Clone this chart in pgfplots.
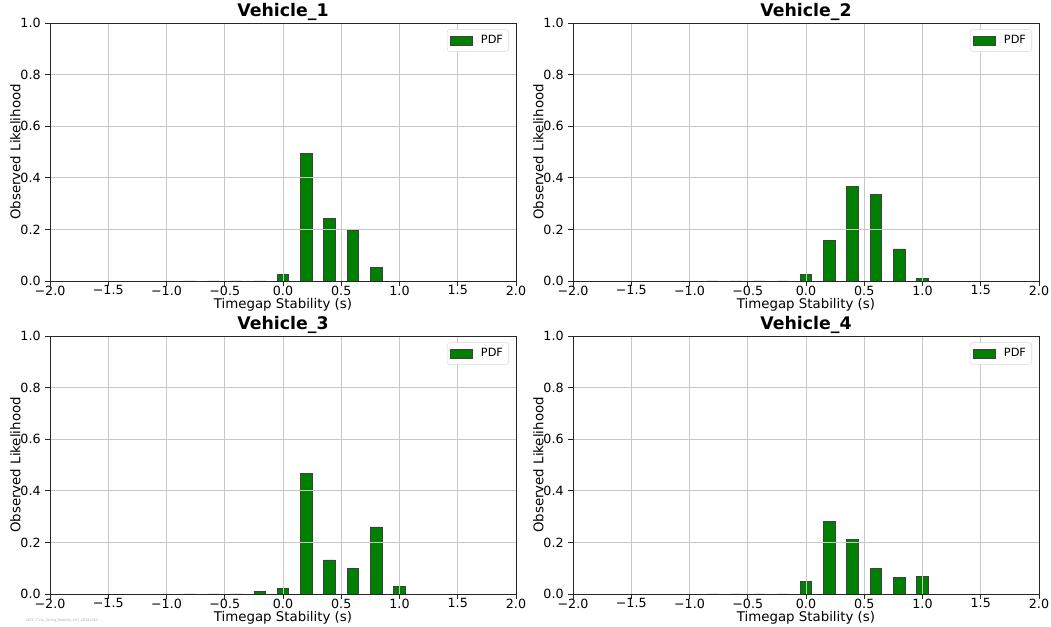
\documentclass[border=0pt]{standalone}
\usepackage{fontspec}
\setmainfont{DejaVu Sans}
\usepackage{pgfplots}
\pgfplotsset{compat=1.18}
\usepackage{pgfplotstable}
\definecolor{barg}{RGB}{0,128,0}
\definecolor{gridc}{RGB}{200,200,200}

\pgfplotstableread{
x y
-0.8 0
-0.6 0
-0.4 0
-0.2 0
0.0 0.026
0.2 0.495
0.4 0.241
0.6 0.197
0.8 0.053
}\vone
\pgfplotstableread{
x y
-0.8 0
-0.6 0
-0.4 0
-0.2 0
0.0 0.027
0.2 0.158
0.4 0.368
0.6 0.336
0.8 0.124
1.0 0.010
}\vtwo
\pgfplotstableread{
x y
-0.8 0
-0.6 0
-0.4 0
-0.2 0.010
0.0 0.022
0.2 0.466
0.4 0.132
0.6 0.098
0.8 0.260
1.0 0.028
}\vthree
\pgfplotstableread{
x y
-0.8 0
-0.6 0
-0.4 0
-0.2 0
0.0 0.049
0.2 0.281
0.4 0.210
0.6 0.100
0.8 0.063
1.0 0.069
}\vfour

\pgfplotsset{
  panel/.style={
    scale only axis,
    width=349.5pt, height=193.5pt,
    anchor=south west,
    xmin=-2, xmax=2, ymin=0, ymax=1,
    xtick={-2,-1.5,...,2},
    xticklabels={−2.0,−1.5,−1.0,−0.5,0.0,0.5,1.0,1.5,2.0},
    ytick={0,0.2,...,1.0},
    yticklabels={0.0,0.2,0.4,0.6,0.8,1.0},
    tick label style={font=\fontsize{9.5}{11}\selectfont},
    xticklabel style={yshift=3.5pt},
    label style={font=\fontsize{10}{12}\selectfont},
    title style={font=\fontsize{13}{15}\selectfont\bfseries, yshift=-7.5pt},
    xlabel={Timegap Stability (s)},
    ylabel={Observed Likelihood},
    xlabel style={yshift=4.75pt},
    ylabel style={yshift=-7pt},
    grid=major,
    major grid style={gridc, line width=0.6pt},
    axis line style={black!85, line width=0.6pt},
    tick style={black!85, line width=0.6pt},
    tick align=outside,
    tick pos=left,
    major tick length=3.5pt,
    axis on top,
    legend style={font=\fontsize{8.5}{10}\selectfont, draw=gray!30, rounded corners=2pt, inner sep=2.3pt, at={(0.985,0.975)}, anchor=north east},
    legend cell align=left,
  },
  barstyle/.style={ybar, bar width=0.1, fill=barg, draw=black!75, line width=0.5pt,
    legend image code/.code={\draw[##1, sharp corners] (0pt,-3.3pt) rectangle (16.5pt,3.3pt);}},
}

\begin{document}
\begin{tikzpicture}
\path[use as bounding box] (0,0) rectangle (788.25pt,470.25pt);
\begin{axis}[panel, at={(37.5pt,259.5pt)}, title={Vehicle\_1}]
\addplot[barstyle] table[x=x,y=y] {\vone};
\addlegendentry{\hspace{4pt}PDF}
\end{axis}
\begin{axis}[panel, at={(429.75pt,259.5pt)}, title={Vehicle\_2}]
\addplot[barstyle] table[x=x,y=y] {\vtwo};
\addlegendentry{\hspace{4pt}PDF}
\end{axis}
\begin{axis}[panel, at={(37.5pt,24.75pt)}, title={Vehicle\_3}]
\addplot[barstyle] table[x=x,y=y] {\vthree};
\addlegendentry{\hspace{4pt}PDF}
\end{axis}
\begin{axis}[panel, at={(429.75pt,24.75pt)}, title={Vehicle\_4}]
\addplot[barstyle] table[x=x,y=y] {\vfour};
\addlegendentry{\hspace{4pt}PDF}
\end{axis}
\node[anchor=west, gray!70, font=\fontsize{2.5}{3}\selectfont] at (16pt,5pt) {OICC\_T11a\_String\_Stability\_n47\_20181010};
\end{tikzpicture}
\end{document}
